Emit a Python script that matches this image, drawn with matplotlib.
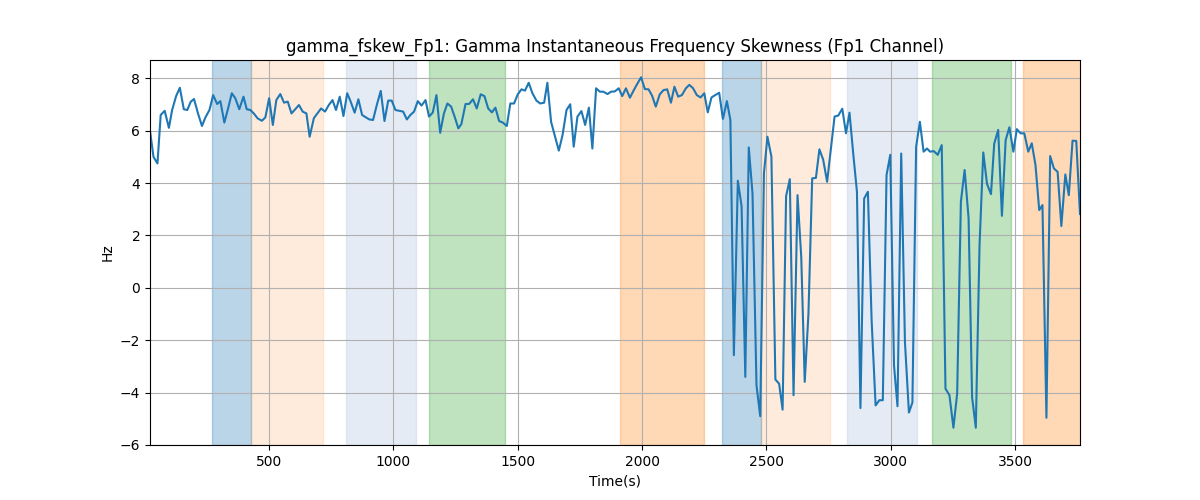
import numpy as np
import matplotlib
matplotlib.use("Agg")
import matplotlib.pyplot as plt

# time stamps (s) and skewness values
times = [21, 35, 51, 64, 80, 97, 110, 126, 141, 157, 171, 185, 198, 214, 230, 244, 260, 275, 291, 304,
         320, 335, 350, 364, 380, 397, 410, 425, 440, 454, 471, 485, 500, 515, 529, 545, 560, 575, 590, 605,
         620, 635, 650, 663, 680, 694, 709, 725, 740, 755, 769, 784, 799, 814, 828, 844, 859, 874, 889, 903,
         918, 933, 949, 964, 979, 993, 1008, 1023, 1039, 1054, 1068, 1083, 1098, 1113, 1129, 1143, 1158, 1173, 1188, 1203,
         1217, 1232, 1247, 1261, 1273, 1290, 1304, 1320, 1335, 1351, 1366, 1381, 1396, 1410, 1425, 1440, 1456, 1470, 1485, 1500,
         1515, 1529, 1544, 1559, 1575, 1590, 1606, 1619, 1634, 1650, 1665, 1680, 1696, 1711, 1725, 1740, 1756, 1771, 1786, 1800,
         1815, 1830, 1844, 1861, 1875, 1890, 1906, 1920, 1935, 1951, 1965, 1980, 1996, 2011, 2026, 2040, 2055, 2071, 2086, 2101,
         2116, 2130, 2145, 2160, 2176, 2190, 2205, 2220, 2235, 2250, 2264, 2279, 2294, 2310, 2325, 2341, 2355, 2369, 2385, 2400,
         2415, 2429, 2444, 2460, 2475, 2490, 2504, 2520, 2536, 2551, 2565, 2579, 2594, 2609, 2625, 2640, 2654, 2669, 2684, 2699,
         2713, 2728, 2744, 2759, 2774, 2789, 2805, 2820, 2834, 2849, 2864, 2878, 2893, 2908, 2923, 2939, 2954, 2968, 2983, 2998,
         3013, 3027, 3042, 3057, 3073, 3087, 3102, 3117, 3132, 3146, 3158, 3173, 3189, 3205, 3220, 3236, 3252, 3267, 3282, 3297,
         3313, 3327, 3342, 3357, 3372, 3387, 3403, 3416, 3432, 3447, 3462, 3477, 3493, 3507, 3522, 3537, 3553, 3567, 3582, 3597,
         3610, 3626, 3641, 3656, 3671, 3686, 3702, 3716, 3731, 3746, 3761]

skew = [6.0, 5.0, 4.75, 6.6, 6.76, 6.11, 6.79, 7.32, 7.64, 6.82, 6.79, 7.11, 7.21, 6.66, 6.18, 6.51, 6.79, 7.36, 7.02, 7.13,
        6.31, 6.85, 7.43, 7.24, 6.82, 7.30, 6.82, 6.79, 6.64, 6.47, 6.38, 6.51, 7.24, 6.22, 7.17, 7.40, 7.07, 7.11, 6.66, 6.82,
        6.98, 6.73, 6.66, 5.77, 6.48, 6.66, 6.85, 6.73, 6.98, 7.17, 6.79, 7.30, 6.56, 7.43, 7.11, 6.69, 7.20, 6.60, 6.51, 6.43,
        6.41, 6.98, 7.52, 6.37, 7.15, 7.15, 6.79, 6.76, 6.73, 6.43, 6.60, 6.73, 7.13, 6.96, 7.17, 6.54, 6.69, 7.36, 5.92, 6.66,
        7.04, 6.92, 6.51, 6.09, 6.25, 7.02, 7.02, 7.20, 6.85, 7.39, 7.32, 6.85, 6.70, 6.88, 6.37, 6.31, 6.18, 7.04, 7.04, 7.39,
        7.58, 7.53, 7.83, 7.43, 7.15, 7.04, 7.07, 7.83, 6.34, 5.77, 5.24, 5.83, 6.79, 7.01, 5.39, 6.54, 6.75, 6.22, 6.88, 5.32,
        7.62, 7.49, 7.49, 7.40, 7.49, 7.50, 7.62, 7.32, 7.62, 7.26, 7.52, 7.78, 8.04, 7.59, 7.58, 7.34, 6.92, 7.39, 7.55, 7.58,
        7.07, 7.68, 7.30, 7.36, 7.62, 7.75, 7.62, 7.36, 7.27, 7.43, 6.70, 7.27, 7.36, 7.45, 6.45, 7.13, 6.41, -2.57, 4.09, 3.12,
        -3.40, 5.36, 3.60, -3.72, -4.90, 4.38, 5.77, 5.01, -3.50, -3.66, -4.65, 3.50, 4.15, -4.10, 3.54, 1.18, -3.59, -0.98, 4.18, 4.20,
        5.29, 4.90, 4.05, 5.29, 6.54, 6.58, 6.84, 5.90, 6.69, 5.13, 3.67, -4.59, 3.41, 3.67, -1.24, -4.49, -4.29, -4.29, 4.31, 5.08,
        -2.96, -4.52, 5.13, -2.07, -4.76, -4.38, 5.39, 6.34, 5.20, 5.32, 5.20, 5.22, 5.08, 5.45, -3.85, -4.10, -5.34, -4.04, 3.29, 4.50,
        2.65, -4.17, -5.34, 1.64, 5.17, 3.97, 3.58, 5.50, 6.03, 2.75, 5.64, 6.13, 5.20, 6.06, 5.90, 5.90, 5.20, 5.52, 4.69, 2.97,
        3.16, -4.96, 5.03, 4.56, 4.43, 2.36, 4.33, 3.54, 5.62, 5.61, 2.82]

# shaded event windows (start, end) and their styles
span_starts = [271, 426, 810, 1143, 1910, 2322, 2478, 2823, 3166, 3533]
span_ends = [426, 716, 1091, 1449, 2250, 2478, 2756, 3105, 3483, 3800]
span_colors = ['tab:blue', 'tab:orange', 'lightsteelblue', 'tab:green', 'tab:orange',
               'tab:blue', 'tab:orange', 'lightsteelblue', 'tab:green', 'tab:orange']
span_alphas = [0.3, 0.15, 0.33, 0.3, 0.3, 0.3, 0.15, 0.33, 0.3, 0.3]

fig, ax = plt.subplots(figsize=(12, 5), dpi=100)

for s, e, c, a in zip(span_starts, span_ends, span_colors, span_alphas):
    ax.axvspan(s, e, color=c, alpha=a)

ax.plot(times, skew, color='tab:blue')

ax.set_xlim(times[0], times[-1])
ax.set_ylim(-6, 8.7)
ax.set_title('gamma_fskew_Fp1: Gamma Instantaneous Frequency Skewness (Fp1 Channel)')
ax.set_xlabel('Time(s)')
ax.set_ylabel('Hz')
ax.grid(True)

fig.savefig('out.png')
